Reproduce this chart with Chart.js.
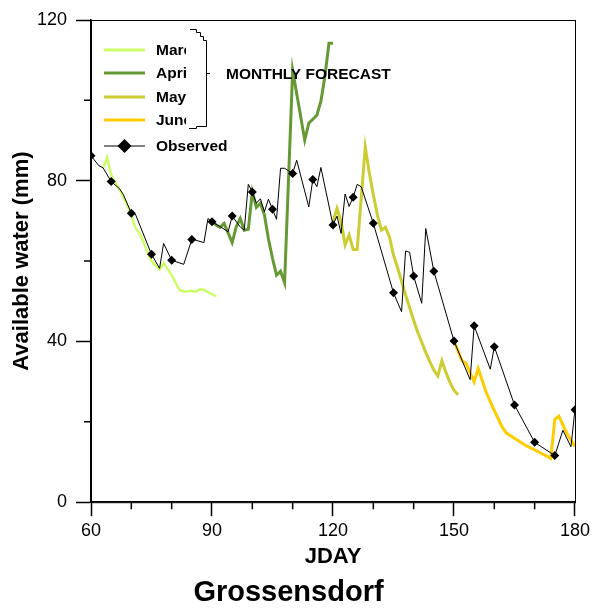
<!DOCTYPE html>
<html>
<head>
<meta charset="utf-8">
<script src="https://cdn.jsdelivr.net/npm/chart.js@4.4.1/dist/chart.umd.min.js"></script>
<style>
  html, body { margin: 0; padding: 0; background: #fff; }
</style>
</head>
<body>
<canvas id="awChart" width="594" height="610"></canvas>
<script>
const FONT = "'Liberation Sans', Arial, Helvetica, sans-serif";

// axis ticks
const xMajorTicks = [60, 90, 120, 150, 180];
const xMinorTicks = [70, 80, 100, 110, 130, 140, 160, 170];
const yMajorTicks = [0, 40, 80, 120];
const yMinorTicks = [20, 60, 100];

// observed available water (mm), markers on every 5th day
const obsDays = [60, 62, 63, 65, 67, 68, 70, 71, 75, 77,
                 78, 80, 83, 85, 86, 88, 89, 90, 92, 94,
                 95, 97, 98, 99, 100, 101, 102, 103, 104, 105,
                 106, 107, 108, 110, 111, 114, 115, 116, 117, 120,
                 121, 122, 123, 124, 125, 126, 127, 130, 135, 137,
                 138, 139, 140, 142, 143, 145, 150, 154, 155, 159,
                 160, 165, 170, 175, 177, 179, 180];
const obsWater = [86.2, 83.7, 83.2, 79.8, 78.1, 76.6, 71.9, 71.7, 61.7, 58.2,
                  64.4, 60.2, 59.2, 65.4, 65.2, 64.6, 70.6, 69.8, 68.6, 67.3,
                  71.2, 68.5, 67.7, 79.1, 77.2, 74.4, 75.5, 72.3, 75.4, 72.9,
                  70.4, 83.1, 83.1, 81.8, 85.1, 73.5, 80.3, 78.5, 83.3, 69.0,
                  71.2, 66.9, 76.7, 73.6, 75.9, 79.1, 78.5, 69.4, 52.1, 47.4,
                  62.5, 62.2, 56.3, 49.5, 68.1, 57.5, 40.1, 30.5, 43.9, 33.1,
                  38.7, 24.2, 14.9, 11.6, 17.9, 13.8, 23.0];

// monthly forecasts
const marchDays  = [63, 64, 65, 66, 67, 68, 69, 70, 71, 72, 73, 74, 75, 76, 77, 78, 79, 80, 81, 82, 83, 84, 85, 86, 87, 88, 89, 90, 91];
const marchWater = [83.2, 85.8, 81.5, 79.5, 78.0, 76.0, 74.0, 71.4, 68.3, 67.0, 64.8, 62.2, 60.0, 58.9, 57.9, 59.5, 58.0, 56.5, 54.6, 52.8, 52.4, 52.5, 52.6, 52.4, 53.0, 52.9, 52.3, 51.8, 51.2];

const aprilDays  = [90, 91, 92, 93, 95, 96, 97, 98, 99, 100, 101, 102, 103, 104, 105, 106, 107, 108, 110, 113, 114, 116, 117, 118, 119, 120];
const aprilWater = [70.0, 69.0, 68.4, 69.4, 64.6, 68.5, 70.6, 67.7, 67.9, 77.2, 73.4, 74.4, 71.5, 65.5, 60.7, 56.5, 57.5, 54.6, 107.5, 90.1, 94.3, 96.3, 99.8, 106.0, 114.2, 114.2];

const mayDays  = [120, 121, 122, 123, 124, 125, 126, 128, 129, 130, 131, 132, 133, 134, 135, 136, 137, 138, 139, 140, 141, 142, 143, 144, 145, 146, 147, 148, 149, 150, 151];
const mayWater = [69.8, 73.1, 69.8, 64.0, 66.5, 62.9, 62.9, 88.4, 82.0, 76.5, 71.5, 67.7, 68.4, 66.0, 61.5, 58.4, 55.0, 51.6, 48.4, 45.3, 42.3, 39.8, 37.3, 35.0, 32.9, 31.4, 35.2, 32.3, 29.8, 27.9, 26.7];

const juneDays  = [150, 152, 153, 155, 156, 158, 159, 160, 161, 162, 163, 165, 168, 171, 174, 175, 176, 178, 180];
const juneWater = [40.1, 35.2, 34.5, 30.0, 33.3, 27.3, 25.0, 22.8, 20.7, 18.6, 17.2, 15.9, 14.0, 12.5, 10.9, 20.6, 21.4, 17.1, 13.9];

const toXY = (days, vals) => days.map((d, i) => ({ x: d, y: vals[i] }));

function forecast(label, days, vals, color, width) {
    return {
        label: label,
        data: toXY(days, vals),
        borderColor: color,
        backgroundColor: color,
        borderWidth: width,
        pointRadius: 0,
        tension: 0,
        order: 2
    };
}

// frame box + the short minor ticks
const frameTicks = {
    id: 'frameTicks',
    afterDraw(chart) {
        const { ctx, chartArea: a, scales: { x, y } } = chart;
        ctx.save();
        ctx.strokeStyle = '#000';
        ctx.lineWidth = 1;
        ctx.strokeRect(a.left + 0.5, a.top + 0.5, a.right - a.left, a.bottom - a.top);
        ctx.lineWidth = 1.5;
        ctx.beginPath();
        xMinorTicks.forEach(v => {
            const px = x.getPixelForValue(v);
            ctx.moveTo(px, a.bottom);
            ctx.lineTo(px, a.bottom + 7);
        });
        yMinorTicks.forEach(v => {
            const py = y.getPixelForValue(v);
            ctx.moveTo(a.left, py);
            ctx.lineTo(a.left - 7, py);
        });
        ctx.stroke();
        ctx.restore();
    }
};

// legend with the bracket around the monthly runs
const bracketLegend = {
    id: 'bracketLegend',
    afterDraw(chart) {
        const ctx = chart.ctx;
        const ds = chart.data.datasets;
        const rows = [50, 73, 97, 120, 146];
        const order = [1, 2, 3, 4, 0];
        ctx.save();
        order.forEach((di, r) => {
            const d = ds[di];
            const yy = rows[r];
            ctx.strokeStyle = d.borderColor;
            ctx.lineWidth = di === 0 ? 1 : 3;
            ctx.beginPath();
            ctx.moveTo(104, yy);
            ctx.lineTo(145, yy);
            ctx.stroke();
            if (di === 0) {
                ctx.fillStyle = '#000';
                ctx.beginPath();
                ctx.moveTo(124.5, yy - 7);
                ctx.lineTo(131.5, yy);
                ctx.lineTo(124.5, yy + 7);
                ctx.lineTo(117.5, yy);
                ctx.closePath();
                ctx.fill();
            }
            ctx.save();
            if (di !== 0) {
                ctx.beginPath();
                ctx.rect(150, yy - 15, 36, 30);
                ctx.clip();
            }
            ctx.fillStyle = '#000';
            ctx.font = 'bold 15.5px ' + FONT;
            ctx.textBaseline = 'middle';
            ctx.fillText(d.label, 156, yy + 1);
            ctx.restore();
        });

        ctx.strokeStyle = '#000';
        ctx.lineWidth = 1;
        ctx.beginPath();
        ctx.moveTo(190, 29.5);
        ctx.lineTo(196.5, 29.5);
        ctx.lineTo(196.5, 32.5);
        ctx.lineTo(200.5, 32.5);
        ctx.lineTo(200.5, 36.5);
        ctx.lineTo(203.5, 36.5);
        ctx.lineTo(203.5, 40.5);
        ctx.lineTo(206.5, 40.5);
        ctx.lineTo(206.5, 126.5);
        ctx.lineTo(196.5, 126.5);
        ctx.lineTo(196.5, 128.5);
        ctx.lineTo(189, 128.5);
        ctx.moveTo(206.5, 73.5);
        ctx.lineTo(210, 73.5);
        ctx.stroke();

        ctx.fillStyle = '#000';
        ctx.font = 'bold 15.5px ' + FONT;
        ctx.textBaseline = 'middle';
        ctx.fillText('MONTHLY FORECAST', 226, 75);
        ctx.restore();
    }
};

new Chart(document.getElementById('awChart'), {
    type: 'line',
    data: {
        datasets: [
            {
                label: 'Observed',
                data: toXY(obsDays, obsWater),
                borderColor: '#000',
                backgroundColor: '#000',
                borderWidth: 1,
                pointStyle: 'rectRot',
                pointRadius: c => (obsDays[c.dataIndex] % 5 === 0 ? 4.5 : 0),
                pointBorderWidth: 0,
                tension: 0,
                order: 1
            },
            forecast('March', marchDays, marchWater, '#ccff66', 2.5),
            forecast('April', aprilDays, aprilWater, '#669933', 3),
            forecast('May', mayDays, mayWater, '#cccc33', 3),
            forecast('June', juneDays, juneWater, '#ffcc00', 3)
        ]
    },
    options: {
        responsive: false,
        animation: false,
        devicePixelRatio: 1,
        layout: { padding: { left: 0, right: 17, top: 20, bottom: 0 } },
        plugins: {
            legend: { display: false },
            tooltip: { enabled: false },
            title: {
                display: true,
                position: 'bottom',
                text: 'Grossensdorf',
                color: '#000',
                font: { family: FONT, size: 29, weight: 'bold' },
                padding: { top: 0, bottom: 0 }
            }
        },
        scales: {
            x: {
                type: 'linear',
                min: 60,
                max: 180,
                afterBuildTicks: s => { s.ticks = xMajorTicks.map(v => ({ value: v })); },
                afterFit: s => { s.height = 73; },
                grid: { drawOnChartArea: false, tickLength: 14, tickColor: '#000', tickWidth: 1.5 },
                border: { color: '#000', width: 1.5 },
                ticks: { color: '#000', padding: 4, maxRotation: 0, font: { family: FONT, size: 18 } },
                title: {
                    display: true,
                    text: 'JDAY',
                    color: '#000',
                    font: { family: FONT, size: 22, weight: 'bold' },
                    padding: { top: 0, bottom: 5 }
                }
            },
            y: {
                min: 0,
                max: 120,
                afterBuildTicks: s => { s.ticks = yMajorTicks.map(v => ({ value: v })); },
                afterFit: s => { s.width = 91; },
                grid: { drawOnChartArea: false, tickLength: 15, tickColor: '#000', tickWidth: 1.5 },
                border: { color: '#000', width: 1.5 },
                ticks: { color: '#000', padding: 9, font: { family: FONT, size: 18 } },
                title: {
                    display: true,
                    text: 'Available water (mm)',
                    color: '#000',
                    font: { family: FONT, size: 22, weight: 'bold' },
                    padding: { top: 9, bottom: 0 }
                }
            }
        }
    },
    plugins: [frameTicks, bracketLegend]
});
</script>
</body>
</html>
